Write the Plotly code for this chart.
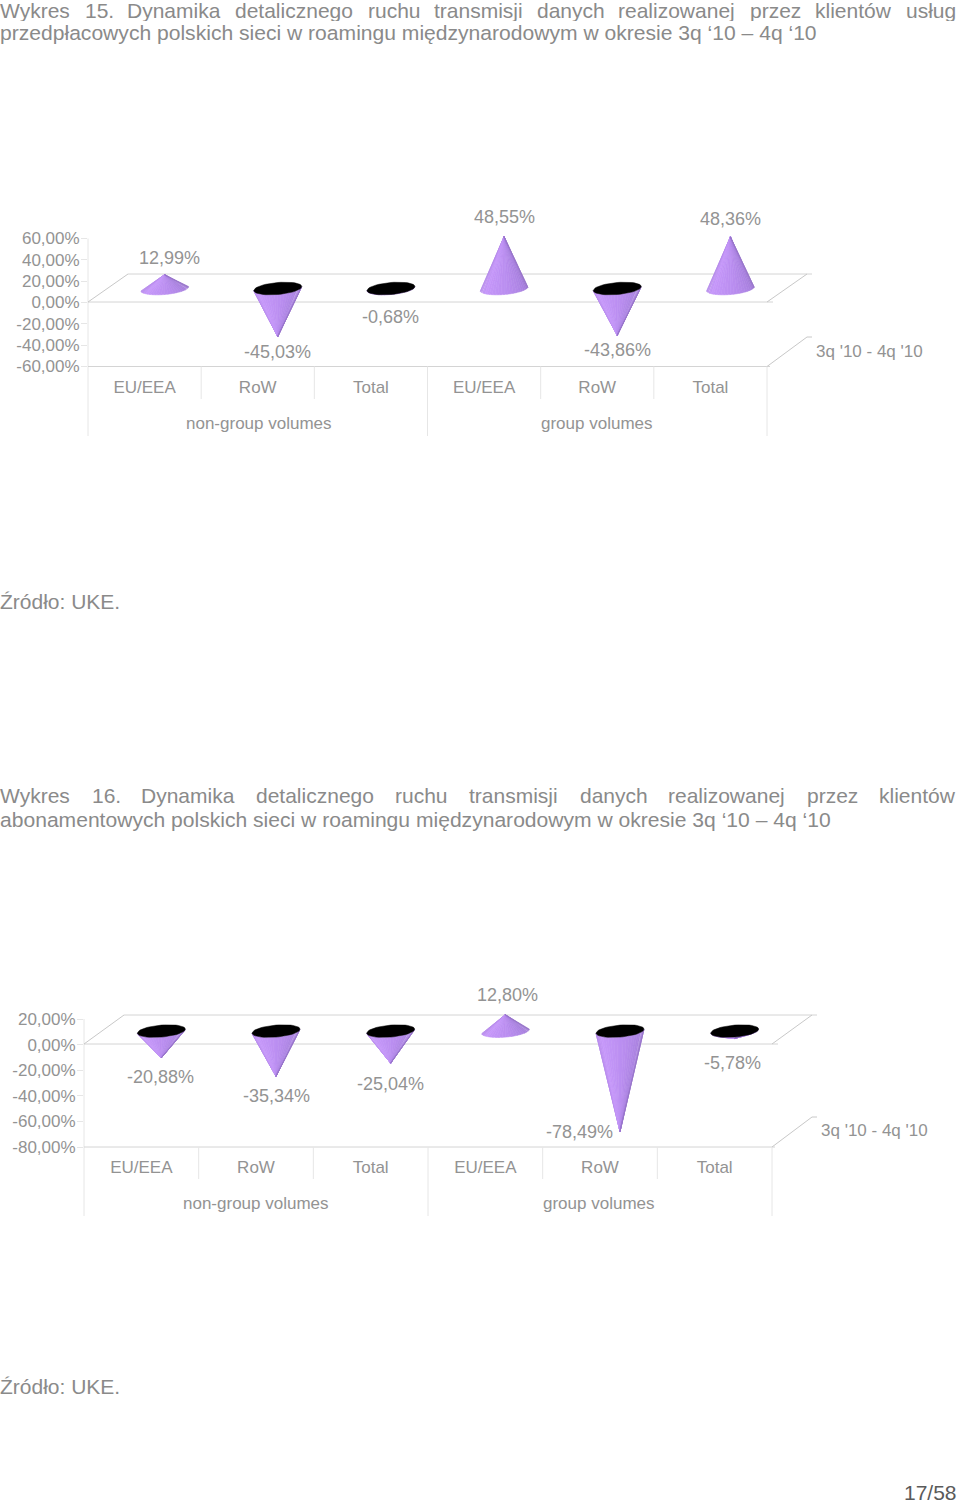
import math
import plotly.graph_objects as go

W, H = 960, 1502
categories = ["EU/EEA", "RoW", "Total", "EU/EEA", "RoW", "Total"]
groups = ["non-group volumes", "group volumes"]
series_name = "3q '10 - 4q '10"
values_15 = [12.99, -45.03, -0.68, 48.55, -43.86, 48.36]
values_16 = [-20.88, -35.34, -25.04, 12.80, -78.49, -5.78]
ticks_15 = [60, 40, 20, 0, -20, -40, -60]
ticks_16 = [20, 0, -20, -40, -60, -80]

title15_words = ["Wykres", "15.", "Dynamika", "detalicznego", "ruchu", "transmisji", "danych",
                 "realizowanej", "przez", "klientów", "usług"]
title15_x = [0, 85, 127, 235, 368, 434, 537, 618, 750, 815, 906]
title15_line2 = "przedpłacowych polskich sieci w roamingu międzynarodowym w okresie 3q ‘10 – 4q ‘10"
title16_words = ["Wykres", "16.", "Dynamika", "detalicznego", "ruchu", "transmisji", "danych",
                 "realizowanej", "przez", "klientów"]
title16_x = [0, 92, 141, 256, 395, 469, 580, 668, 807, 879]
title16_line2 = "abonamentowych polskich sieci w roamingu międzynarodowym w okresie 3q ‘10 – 4q ‘10"
source = "Źródło: UKE."
page = "17/58"

FONT = "Liberation Sans, Arial, sans-serif"
GREY = "#939393"
TITLE_GREY = "#8a8a8a"
LINE = "#d4d4d4"
DIV = "#e6e6e6"


def px(x):
    return x / W


def py(y):
    return 1 - y / H


def shade(t):
    stops = [(0.0, (176, 132, 230)), (0.22, (198, 152, 250)), (0.55, (186, 142, 240)),
             (0.85, (168, 128, 222)), (1.0, (148, 114, 198))]
    for (a, ca), (b, cb) in zip(stops, stops[1:]):
        if t <= b:
            f = (t - a) / (b - a)
            return "rgb(%d,%d,%d)" % tuple(round(p + (q - p) * f) for p, q in zip(ca, cb))
    return "rgb(148,114,198)"


fig = go.Figure()
annotations, shapes = [], []


def line(x0, y0, x1, y1, color=LINE, width=1):
    shapes.append(dict(type="line", xref="paper", yref="paper", x0=px(x0), x1=px(x1),
                       y0=py(y0), y1=py(y1), line=dict(color=color, width=width), layer="below"))


def text(x, y, s, size, color=GREY, anchor="center", height=None):
    annotations.append(dict(xref="paper", yref="paper", x=px(x), y=py(y), text=s, showarrow=False,
                            xanchor=anchor, yanchor="middle", font=dict(family=FONT, size=size, color=color),
                            borderpad=0, borderwidth=0, height=height))


def chart(idx, values, ticks, left, right, top, bottom, zero_px, base_px, back_px, bottom_back_px,
          div_end, long_end, label_dx, label_dy, group_x, series_xy):
    ax = "" if idx == 1 else str(idx)
    catw = (right - left) / 6
    scale = (bottom - top) / (ticks[0] - ticks[-1])
    depth_x = 20
    offset = (zero_px - base_px) / scale
    half_w = 24 / catw
    ry = 6 / scale
    tilt = 2 / scale
    shift = depth_x / catw
    head_room = 40  # axis units kept above the top tick so tall cones and their labels are not clipped
    n = 24
    for b in range(n):
        xs, ys = [], []
        t0, t1 = b / n, (b + 1) / n
        for i, v in enumerate(values):
            cx = i + 0.5 + shift
            pts = []
            for t in (t0, (t0 + t1) / 2, t1):
                th = math.pi + t * math.pi
                pts.append((cx + half_w * math.cos(th), offset + ry * math.sin(th) + tilt * math.cos(th)))
            xs += [cx] + [p[0] for p in pts] + [cx, None]
            ys += [offset + v] + [p[1] for p in pts] + [offset + v, None]
        c = shade((b + 0.5) / n)
        fig.add_trace(go.Scatter(x=xs, y=ys, mode="lines", fill="toself", fillcolor=c,
                                 line=dict(color=c, width=0.6), hoverinfo="skip", showlegend=False,
                                 xaxis="x" + ax, yaxis="y" + ax))
    bx, by = [], []
    for i, v in enumerate(values):
        if v < 0:
            cx = i + 0.5 + shift
            for k in range(49):
                th = 2 * math.pi * k / 48
                bx.append(cx + half_w * math.cos(th))
                by.append(offset + ry * math.sin(th) + tilt * math.cos(th))
            bx.append(None)
            by.append(None)
    fig.add_trace(go.Scatter(x=bx, y=by, mode="lines", fill="toself", fillcolor="#000000",
                             line=dict(color="#000000", width=0.5), hoverinfo="skip", showlegend=False,
                             xaxis="x" + ax, yaxis="y" + ax))
    fig.update_layout({
        "xaxis" + ax: dict(domain=[px(left), px(right)], range=[0, 6], anchor="y" + ax,
                           tickvals=[i + 0.5 for i in range(6)], ticktext=categories, ticks="",
                           ticklabelstandoff=8, showgrid=False, zeroline=False, showline=False,
                           tickfont=dict(family=FONT, size=17, color=GREY), fixedrange=True),
        "yaxis" + ax: dict(domain=[py(bottom), py(top - head_room * scale)],
                           range=[ticks[-1], ticks[0] + head_room], anchor="x" + ax,
                           tickvals=ticks, ticktext=[("%.2f%%" % t).replace(".", ",") for t in ticks],
                           ticks="outside", ticklen=6, tickcolor=DIV, ticklabelstandoff=-2, showgrid=False,
                           zeroline=False, showline=False,
                           tickfont=dict(family=FONT, size=17, color=GREY), fixedrange=True),
    })
    # 3-D floor and frame
    back_left, back_right = left + 40, right + 40
    line(left, top, left, long_end, DIV)
    line(left, zero_px, right + 6, zero_px)
    line(back_left, back_px, back_right + 5, back_px)
    line(left, zero_px, back_left, back_px, "#c8c8c8")
    line(right, zero_px, back_right, back_px, "#c8c8c8")
    line(left, bottom, right + 3, bottom)
    line(right, bottom, back_right, bottom_back_px, "#c8c8c8")
    line(back_right, bottom_back_px, back_right + 5, bottom_back_px, "#c8c8c8")
    for k in range(1, 6):
        line(left + k * catw, bottom, left + k * catw, long_end if k == 3 else div_end, DIV)
    line(right, bottom, right, long_end, DIV)
    # Data labels
    for i, v in enumerate(values):
        annotations.append(dict(xref="x" + ax, yref="y" + ax, x=i + 0.5 + shift, y=offset + v,
                                text=("%.2f%%" % v).replace(".", ","), showarrow=False,
                                xshift=label_dx[i], yshift=-label_dy[i], xanchor="center", yanchor="middle",
                                font=dict(family=FONT, size=18, color=GREY)))
    for g, gx in zip(groups, group_x):
        text(gx, long_end - 12.5, g, 17)
    text(series_xy[0], series_xy[1] + 0.5, series_name, 17)


chart(1, values_15, ticks_15, 88, 767, 238.5, 366.5, 302, 288, 274, 337, 399, 436,
      [5, 0, 0, 0, 0, 0], [-17, 15, 28, -20, 15, -18], [259, 597], (869, 351))
chart(2, values_16, ticks_16, 84, 772, 1019, 1147, 1044, 1030.5, 1015, 1117, 1179, 1216,
      [-1, 0, 0, 2, -41, -2], [19, 20, 21, -20, 0, 24], [256, 599], (874, 1130))

for w, x in zip(title15_words, title15_x):
    text(x, 10.5, w, 21, TITLE_GREY, "left", height=21)
text(0, 33, title15_line2, 21.08, TITLE_GREY, "left")
for w, x in zip(title16_words, title16_x):
    text(x, 795, w, 21, TITLE_GREY, "left")
text(0, 819, title16_line2, 21.08, TITLE_GREY, "left")
text(0, 601, source, 21, TITLE_GREY, "left")
text(0, 1386, source, 21, TITLE_GREY, "left")
text(904, 1491.5, page, 21, "#5a5a5a", "left", height=20)

fig.update_layout(width=W, height=H, margin=dict(l=0, r=0, t=0, b=0, autoexpand=False), paper_bgcolor="white",
                  plot_bgcolor="rgba(0,0,0,0)", showlegend=False, annotations=annotations, shapes=shapes,
                  font=dict(family=FONT))
fig.write_html("out.html", post_script="document.body.style.margin='0';document.documentElement.style.overflow='hidden';",
               config=dict(displayModeBar=False))
